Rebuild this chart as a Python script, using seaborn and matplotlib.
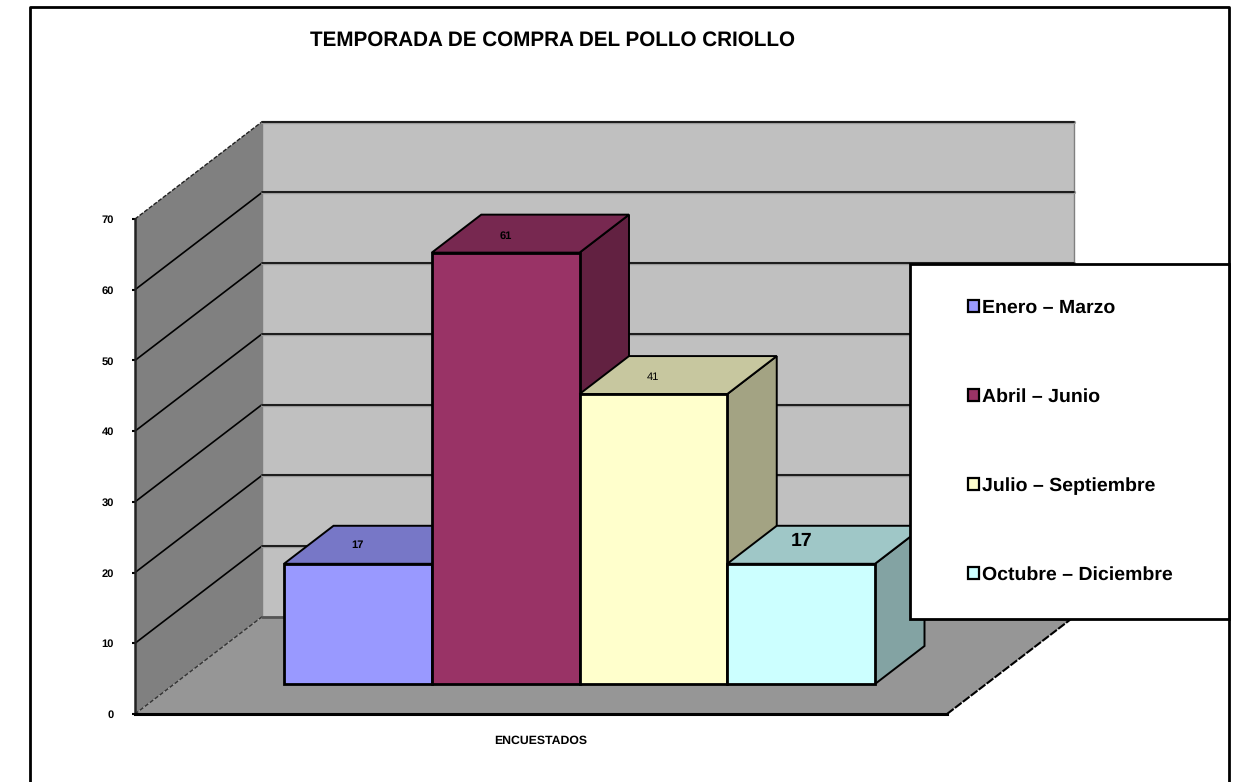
import pandas as pd
import numpy as np
import matplotlib
matplotlib.use("Agg")
import matplotlib.pyplot as plt
from matplotlib.patches import Polygon, Rectangle, Patch
import seaborn as sns

# Chart data
temporadas = ["Enero – Marzo", "Abril – Junio", "Julio – Septiembre", "Octubre – Diciembre"]
encuestados = [17, 61, 41, 17]
colores = ["#9999FF", "#993366", "#FFFFCC", "#CCFFFF"]
y_ticks = [0, 10, 20, 30, 40, 50, 60, 70]
titulo = "TEMPORADA DE COMPRA DEL POLLO CRIOLLO"
x_label = "ENCUESTADOS"

W, H = 1240, 782

sns.set_theme(style="white")
plt.rcParams["font.family"] = ["Liberation Sans", "DejaVu Sans"]
plt.rcParams["text.hinting"] = "no_hinting"

fig = plt.figure(figsize=(W / 100, H / 100), dpi=100, facecolor="white")


def box(x0, y_top, x1, y_bottom):
    # pixel box to figure fractions
    return [x0 / W, 1 - y_bottom / H, (x1 - x0) / W, (y_bottom - y_top) / H]


def shade(color, k):
    rgb = np.array(matplotlib.colors.to_rgb(color)) * k
    return tuple(rgb)


# Outer frame (open at the bottom edge of the picture)
bg = fig.add_axes([0, 0, 1, 1], zorder=0)
bg.set_xlim(0, W)
bg.set_ylim(H, 0)
bg.axis("off")
bg.plot([30, 30, 1229, 1229], [H, 7, 7, H], color="black", lw=2)

# Walls and floor, in value units on y
ax = fig.add_axes(box(135, 219, 947, 714), zorder=1)
ax.set_xlim(0, 812)
ax.set_ylim(0, 70)
ax.patch.set_alpha(0)
wall_dx = 127
wall_dy = 13.75

ax.add_patch(Polygon([(wall_dx, wall_dy), (812 + wall_dx, wall_dy), (812 + wall_dx, 70 + wall_dy), (wall_dx, 70 + wall_dy)],
                     fc="#C0C0C0", ec="#808080", lw=1, clip_on=False, zorder=1))
ax.add_patch(Polygon([(0, 0), (wall_dx, wall_dy), (wall_dx, 70 + wall_dy), (0, 70)],
                     fc="#808080", ec="none", clip_on=False, zorder=1))
ax.add_patch(Polygon([(0, 0), (812, 0), (812 + wall_dx, wall_dy), (wall_dx, wall_dy)],
                     fc="#969696", ec="none", clip_on=False, zorder=1))
ax.plot([0, wall_dx], [0, wall_dy], color="#333333", lw=1, ls=(0, (3, 1.5)), clip_on=False, zorder=2)
ax.plot([0, wall_dx], [70, 70 + wall_dy], color="#222222", lw=1, ls=(0, (3, 1.2)), clip_on=False, zorder=2)
ax.plot([812, 812 + wall_dx], [0, wall_dy], color="black", lw=1.5, ls=(0, (4, 0.8)), clip_on=False, zorder=2)
ax.plot([wall_dx, 812 + wall_dx], [wall_dy, wall_dy], color="#555555", lw=2, clip_on=False, zorder=2)

for t in y_ticks[1:]:
    if t < 70:
        ax.plot([0, wall_dx], [t, t + wall_dy], color="black", lw=1.2, clip_on=False, zorder=2)
    ax.plot([wall_dx, 812 + wall_dx], [t + wall_dy, t + wall_dy], color="#9a9a9a", lw=2.4, clip_on=False, zorder=2)
    ax.plot([wall_dx, 812 + wall_dx], [t + wall_dy, t + wall_dy], color="#111111", lw=1.3, clip_on=False, zorder=2)

for s in ["top", "right"]:
    ax.spines[s].set_visible(False)
ax.spines["left"].set_linewidth(1.8)
ax.spines["left"].set_color("#222222")
ax.spines["bottom"].set_linewidth(2.2)
ax.spines["bottom"].set_color("black")
ax.spines["left"].set_zorder(3)
ax.spines["bottom"].set_zorder(3)

ax.set_yticks(y_ticks)
ax.set_yticklabels([str(t) for t in y_ticks], fontsize=8, fontweight="bold", color="black")
ax.tick_params(axis="y", left=True, length=2, width=1.5, pad=13, color="black")
ax.set_xticks([])
ax.set_xlabel(x_label, fontsize=8.8, fontweight="bold", color="black", labelpad=15)

# Bars: front faces come from seaborn, same value scale as the axis
bar_ax = fig.add_axes(box(284, 189, 875, 684), zorder=2)
df = pd.DataFrame({"temporada": temporadas, "encuestados": encuestados})
sns.barplot(data=df, x="temporada", y="encuestados", hue="temporada", palette=colores, saturation=1,
            width=1, dodge=False, legend=False, edgecolor="black", linewidth=2, ax=bar_ax)
bar_ax.set_xlim(-0.5, 3.5)
bar_ax.set_ylim(0, 70)
bar_ax.axis("off")

# Depth of the bars
dx = 49.5 / (591 / 4)
dy = 38 / (495 / 70)

for i, (bar, color) in enumerate(zip(bar_ax.patches, colores)):
    x0 = bar.get_x()
    x1 = x0 + bar.get_width()
    h = bar.get_height()
    z = 3 + i
    bar_ax.add_patch(Polygon([(x1, 0), (x1 + dx, dy), (x1 + dx, h + dy), (x1, h)],
                             fc=shade(color, 0.64), ec="black", lw=1.4, clip_on=False, zorder=z))
    bar_ax.add_patch(Polygon([(x0, h), (x0 + dx, h + dy), (x1 + dx, h + dy), (x1, h)],
                             fc=shade(color, 0.78), ec="black", lw=1.4, clip_on=False, zorder=z))
    bar.set_zorder(z + 0.5)
    bar.set_clip_on(False)

# Value labels on top of the bars
label_style = [(8, "bold", 2.6), (8, "bold", 2.4), (8, "normal", 2.4), (14, "bold", 3.2)]
for i, v in enumerate(encuestados):
    size, weight, off = label_style[i]
    bar_ax.text(i, v + off, str(v), ha="center", va="center", fontsize=size, fontweight=weight,
                color="black", zorder=10)

# Title and legend
over = fig.add_axes([0, 0, 1, 1], zorder=3)
over.set_xlim(0, W)
over.set_ylim(H, 0)
over.axis("off")
over.add_patch(Rectangle((910, 264), 319, 355, fc="white", ec="black", lw=2))
over.text(553, 40, titulo, ha="center", va="center", fontsize=14.9, fontweight="bold", color="black")

handles = [Patch(facecolor=c, edgecolor="black", linewidth=1.6) for c in colores]
over.legend(handles, temporadas, loc="upper left", bbox_to_anchor=(968 / W, 1 - 299 / H),
            bbox_transform=fig.transFigure, frameon=False, prop={"size": 14, "weight": "bold"},
            handlelength=0.55, handleheight=0.55, handletextpad=0.15, labelspacing=3.67,
            borderpad=0, borderaxespad=0, labelcolor="black")

fig.savefig("out.png", dpi=100)
